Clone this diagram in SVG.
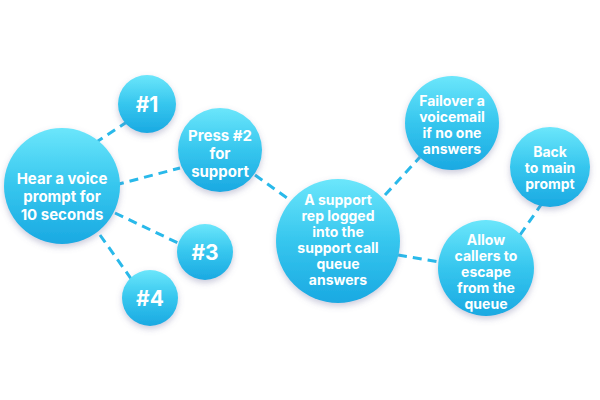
<svg xmlns="http://www.w3.org/2000/svg" width="600" height="400" viewBox="0 0 600 400">
<defs>
<linearGradient id="g" x1="0" y1="0" x2="0" y2="1">
<stop offset="0" stop-color="#6be6fb"/><stop offset="0.5" stop-color="#36c6ee"/><stop offset="1" stop-color="#1aa9e2"/>
</linearGradient>
<filter id="s" x="-20%" y="-20%" width="140%" height="150%"><feDropShadow dx="0" dy="3" stdDeviation="3" flood-color="#6a6a9a" flood-opacity="0.35"/></filter>
</defs>
<style>
.n{fill:url(#g);filter:url(#s)}
.c line{stroke:#29b9ea;stroke-width:3;stroke-dasharray:9 6}
text{font-family:"Inter","Liberation Sans",sans-serif;font-weight:700;fill:#fff;text-anchor:middle;font-size:14px}
.b{font-size:15px}
.h{font-size:21px}
</style>
<rect width="600" height="400" fill="#fff"/>
<g class="c">
<line x1="95" y1="143" x2="130" y2="120"/>
<line x1="115" y1="185" x2="180" y2="168"/>
<line x1="115" y1="213" x2="178" y2="243"/>
<line x1="100" y1="235" x2="132" y2="280"/>
<line x1="255" y1="175" x2="290" y2="200"/>
<line x1="385" y1="195" x2="420" y2="157"/>
<line x1="398" y1="255" x2="440" y2="262"/>
<line x1="520" y1="235" x2="543" y2="202"/>
</g>
<g id="hear"><circle class="n" cx="62" cy="186" r="58"/><text class="b" x="62" y="184">Hear a voice</text><text class="b" x="62" y="202">prompt for</text><text class="b" x="62" y="220">10 seconds</text></g>
<g id="n1"><circle class="n" cx="147" cy="104" r="29"/><text class="h" x="147" y="112">#1</text></g>
<g id="n2"><circle class="n" cx="220" cy="150" r="42"/><text class="b" x="220" y="141">Press #2</text><text class="b" x="220" y="159">for</text><text class="b" x="220" y="177">support</text></g>
<g id="n3"><circle class="n" cx="205" cy="252" r="28"/><text class="h" x="205" y="260">#3</text></g>
<g id="n4"><circle class="n" cx="150" cy="298" r="28"/><text class="h" x="150" y="306">#4</text></g>
<g id="rep"><circle class="n" cx="338" cy="241" r="62"/><text x="338" y="205">A support</text><text x="338" y="221">rep logged</text><text x="338" y="237">into the</text><text x="338" y="253">support call</text><text x="338" y="269">queue</text><text x="338" y="285">answers</text></g>
<g id="fail"><circle class="n" cx="452" cy="123" r="47"/><text x="452" y="106">Failover a</text><text x="452" y="122">voicemail</text><text x="452" y="138">if no one</text><text x="452" y="154">answers</text></g>
<g id="back"><circle class="n" cx="550" cy="167" r="40"/><text x="550" y="157">Back</text><text x="550" y="173">to main</text><text x="550" y="189">prompt</text></g>
<g id="allow"><circle class="n" cx="486" cy="268" r="48"/><text x="486" y="245">Allow</text><text x="486" y="261">callers to</text><text x="486" y="277">escape</text><text x="486" y="293">from the</text><text x="486" y="309">queue</text></g>
</svg>
